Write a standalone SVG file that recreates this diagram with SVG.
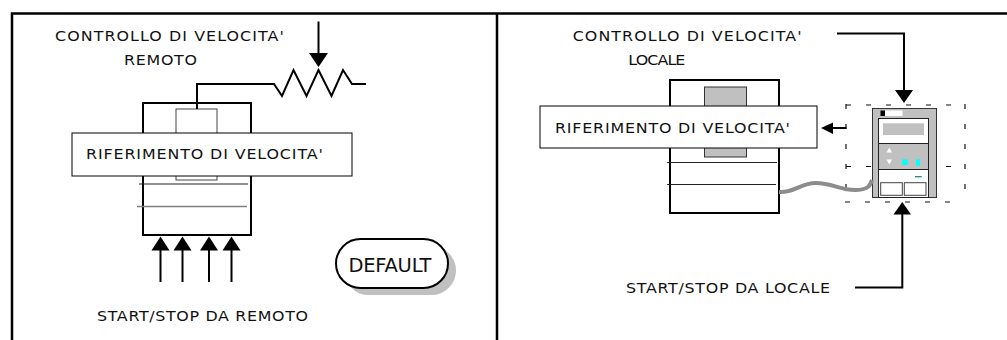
<svg xmlns="http://www.w3.org/2000/svg" width="1007" height="340" viewBox="0 0 1007 340">
  <style>
    .lbl { font-family: "DejaVu Sans", "Liberation Sans", sans-serif; font-size: 13.8px; fill: #111; }
    .big { font-family: "DejaVu Sans", "Liberation Sans", sans-serif; font-size: 19.5px; fill: #111; }
    .frame { fill: none; stroke: #000; stroke-width: 2.5; }
    .wire { fill: none; stroke: #000; stroke-width: 2; stroke-linejoin: miter; }
    .drive { fill: #fff; stroke: #000; stroke-width: 2; }
    .box { fill: #fff; stroke: #000; stroke-width: 1; }
    .thin { stroke: #222; stroke-width: 1; }
    .dash { fill: none; stroke: #111; stroke-width: 1.2; stroke-dasharray: 5 15; }
    .head { fill: #000; }
  </style>

  <!-- outer frame with the divider between the two panels -->
  <g id="frame">
    <path class="frame" d="M12,340 V13.5 H1007 M497,13.5 V340"/>
  </g>

  <!-- ===== left panel: remote control ===== -->
  <g id="remote-drive">
    <rect class="drive" x="143" y="103" width="108" height="132"/>
    <rect x="176" y="109" width="41" height="71" fill="#fff" stroke="#444" stroke-width="1"/>
    <line class="thin" x1="139" y1="184" x2="248" y2="184"/>
    <line x1="137" y1="206.5" x2="247" y2="206.5" stroke="#808080" stroke-width="1.5"/>
  </g>

  <!-- labels use a slightly widened face: scale(1.15,1) -->
  <g id="remote-reference">
    <rect class="box" x="72" y="133" width="280" height="43"/>
    <text class="lbl" transform="translate(86,158.5) scale(1.15,1)" textLength="206">RIFERIMENTO DI VELOCITA'</text>
  </g>

  <g id="remote-speed-label">
    <text class="lbl" transform="translate(55,40.5) scale(1.15,1)" textLength="199">CONTROLLO DI VELOCITA'</text>
    <text class="lbl" transform="translate(124,65) scale(1.15,1)" textLength="63.5">REMOTO</text>
  </g>

  <g id="remote-start-label">
    <text class="lbl" transform="translate(97,320.5) scale(1.15,1)" textLength="183.5">START/STOP DA REMOTO</text>
  </g>

  <g id="default-button">
    <rect x="344" y="246" width="112" height="49" rx="24.5" fill="#c0c0c0"/>
    <rect x="336" y="239" width="112" height="49" rx="24.5" fill="#fff" stroke="#000" stroke-width="2"/>
    <text class="big" x="348.5" y="271.7" textLength="83">DEFAULT</text>
  </g>

  <!-- ===== right panel: local control ===== -->
  <g id="local-drive">
    <rect class="drive" x="670" y="80" width="109" height="133"/>
    <rect x="704.5" y="87" width="42" height="70" fill="#c0c0c0" stroke="#333" stroke-width="1"/>
    <line class="thin" x1="667" y1="162.5" x2="777" y2="162.5"/>
    <line class="thin" x1="667" y1="184.5" x2="776" y2="184.5"/>
  </g>

  <g id="local-reference">
    <rect class="box" x="540" y="106" width="277" height="42"/>
    <text class="lbl" transform="translate(555,132.5) scale(1.15,1)" textLength="204.3">RIFERIMENTO DI VELOCITA'</text>
  </g>

  <g id="local-speed-label">
    <text class="lbl" transform="translate(572.7,40.5) scale(1.15,1)" textLength="199">CONTROLLO DI VELOCITA'</text>
    <text class="lbl" transform="translate(628.3,65) scale(1.15,1)" textLength="49.6">LOCALE</text>
  </g>

  <g id="local-start-label">
    <text class="lbl" transform="translate(626,293.3) scale(1.15,1)" textLength="177.4">START/STOP DA LOCALE</text>
  </g>

  <!-- keypad with its dashed outline -->
  <g id="keypad">
    <line class="dash" x1="846" y1="105" x2="966" y2="105"/>
    <line class="dash" x1="846" y1="166.5" x2="966" y2="166.5"/>
    <line class="dash" x1="845" y1="202" x2="955" y2="202"/>
    <line class="dash" x1="846" y1="104" x2="846" y2="202"/>
    <line class="dash" x1="965" y1="104" x2="965" y2="202"/>

    <rect x="872.5" y="108.5" width="64" height="89" fill="#c0c0c0" stroke="#333" stroke-width="1"/>
    <rect x="880.5" y="110.5" width="4.5" height="5.5" fill="#000"/>
    <rect x="885" y="110.5" width="17.5" height="5.5" fill="#fff"/>
    <!-- display -->
    <rect x="878.5" y="118.5" width="50" height="25" fill="#fff" stroke="#222" stroke-width="1"/>
    <rect x="883" y="123.3" width="41" height="11.7" fill="#c0c0c0"/>
    <!-- keys -->
    <rect x="878.5" y="143.5" width="50" height="26" fill="#c0c0c0" stroke="#222" stroke-width="1"/>
    <polygon points="889.3,147.5 886.5,152.5 892,152.5" fill="#fff"/>
    <polygon points="886.5,159.5 892,159.5 889.3,164.5" fill="#fff"/>
    <rect x="902.3" y="159.3" width="5.4" height="5.7" fill="#00ffff"/>
    <rect x="916" y="159.3" width="4" height="6.5" fill="#00ffff"/>
    <!-- lower panel -->
    <rect x="878.5" y="169.5" width="50" height="28" fill="#fff" stroke="#222" stroke-width="1"/>
    <line x1="915" y1="176.7" x2="921.7" y2="176.7" stroke="#008080" stroke-width="1.2"/>
    <rect x="880.7" y="182.7" width="21.6" height="12.6" fill="#fff" stroke="#444" stroke-width="1"/>
    <rect x="904.3" y="182.7" width="21.7" height="12.6" fill="#fff" stroke="#444" stroke-width="1"/>
  </g>

  <!-- ===== connectors ===== -->
  <g id="connectors">
    <!-- potentiometer wiring to the remote reference input -->
    <path class="wire" d="M197,109 V84 H274 L282,96 L293.5,70 L306.5,96 L318.5,70 L331.5,96 L343,70 L352,84 H366"/>
    <!-- wiper arrow -->
    <line class="wire" x1="318.5" y1="21.5" x2="318.5" y2="55"/>
    <polygon class="head" points="309,53 328,53 318.5,67"/>

    <!-- remote start/stop inputs -->
    <line class="wire" x1="160.5" y1="282" x2="160.5" y2="249"/>
    <polygon class="head" points="151.5,250.5 169.5,250.5 160.5,236.5"/>
    <line class="wire" x1="182.5" y1="282" x2="182.5" y2="249"/>
    <polygon class="head" points="173.5,250.5 191.5,250.5 182.5,236.5"/>
    <line class="wire" x1="209" y1="282" x2="209" y2="249"/>
    <polygon class="head" points="200,250.5 218,250.5 209,236.5"/>
    <line class="wire" x1="231.5" y1="282" x2="231.5" y2="249"/>
    <polygon class="head" points="222.5,250.5 240.5,250.5 231.5,236.5"/>

    <!-- local speed control into the keypad -->
    <path class="wire" d="M837,33.5 H904 V92"/>
    <polygon class="head" points="895,90 913,90 904,103"/>

    <!-- keypad to reference -->
    <line class="wire" x1="846.5" y1="128" x2="831" y2="128"/>
    <polygon class="head" points="833,122.5 833,134 821,128"/>

    <!-- local start/stop into the keypad -->
    <path class="wire" d="M855,287.5 H902.3 V213"/>
    <polygon class="head" points="893.5,214.5 911,214.5 902.3,202"/>

    <!-- keypad cable -->
    <path d="M779,192 C795,193 800,183 816,183 C832,183 840,190 855,190 C868,190 870,186 872,180" fill="none" stroke="#8c8c8c" stroke-width="4"/>
  </g>
</svg>
